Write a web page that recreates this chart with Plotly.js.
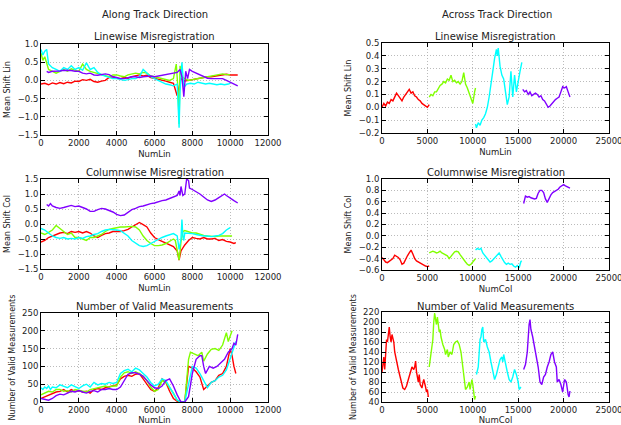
<!DOCTYPE html>
<html><head><meta charset="utf-8">
<script src="https://cdn.plot.ly/plotly-3.0.1.min.js"></script>
<style>html,body{margin:0;padding:0;background:#fff}#c{width:621px;height:425px}</style>
</head><body><div id="c"></div>
<script>
// ---------- Along track: Linewise ----------
const alX_red = [0,200,400,600,800,1000,1200,1400,1600,1800,2000,2200,2400,2600,2800,3000,3200,3400,3600,3800,4000,4200,4400,4600,4800,5000,5200,5400,5600,5800,6000,6200,6400,6600,6800,7000,7200,7400,7600,7800,8000,8200,8400,8600,8800,9000,9200,9400,9600,9800,10000,10200,10400];
const alY_red = [-0.10,-0.08,-0.12,-0.07,-0.10,-0.06,-0.09,-0.05,-0.07,-0.02,-0.03,0.02,0.00,0.03,-0.03,-0.05,-0.02,0.00,0.08,0.10,0.06,0.05,0.08,0.06,0.10,0.13,0.15,0.12,0.14,0.08,0.06,0.04,0.00,-0.02,-0.05,-0.08,-0.42,0.05,-0.02,0.00,0.03,0.05,0.06,0.08,0.10,0.10,0.12,0.14,0.15,0.17,0.15,0.16,0.15];
const alX_grn = [0,100,200,300,400,600,800,1000,1200,1400,1600,1800,2000,2200,2400,2600,2800,3000,3200,3400,3600,3800,4000,4200,4400,4600,4800,5000,5200,5400,5600,5800,6000,6200,6400,6600,6800,7000,7150,7250,7300,7350,7450,7600,7800,8000,8200,8400,8600,8800,9000,9200,9400,9600,9800,10000];
const alY_grn = [0.75,0.55,0.65,0.45,0.30,0.25,0.20,0.25,0.30,0.25,0.32,0.28,0.25,0.45,0.30,0.25,0.22,0.18,0.15,0.12,0.10,0.15,0.15,0.12,0.10,0.15,0.18,0.20,0.18,0.22,0.20,0.12,0.10,0.08,0.06,0.03,0.00,0.05,0.45,-0.30,-1.20,0.40,0.10,0.05,0.00,0.02,0.05,0.06,0.08,0.10,0.12,0.14,0.15,0.18,0.16,0.16];
const alX_cyn = [0,100,200,300,400,600,800,1000,1200,1400,1600,1800,2000,2200,2400,2600,2800,3000,3200,3400,3600,3800,4000,4200,4400,4600,4800,5000,5200,5400,5600,5800,6000,6200,6400,6600,6800,7000,7200,7300,7350,7450,7550,7700,7900,8100,8300,8500,8700,8900,9100,9300,9500,9700,9900,10000];
const alY_cyn = [0.85,0.70,0.80,0.85,0.45,0.35,0.30,0.25,0.35,0.30,0.40,0.30,0.35,0.28,0.48,0.30,0.35,0.22,0.15,0.12,0.10,0.05,0.05,0.02,0.00,0.02,0.05,0.05,0.10,0.30,0.20,0.10,0.05,0.00,-0.05,-0.10,-0.12,-0.15,-0.10,-1.30,-0.30,0.50,-0.20,-0.10,-0.08,-0.10,-0.05,-0.08,-0.10,-0.08,-0.10,-0.12,-0.10,-0.12,-0.10,-0.08];
const alX_pur = [300,400,600,800,1000,1200,1400,1600,1800,2000,2200,2400,2600,2800,3000,3200,3400,3600,3800,4000,4200,4400,4600,4800,5000,5200,5400,5600,5800,6000,6200,6400,6600,6800,7000,7200,7350,7450,7550,7650,7750,7850,8000,8200,8400,8600,8800,9000,9200,9400,9600,9800,10000,10200,10400];
const alY_pur = [0.25,0.22,0.25,0.25,0.26,0.28,0.28,0.27,0.25,0.25,0.20,0.18,0.20,0.15,0.14,0.15,0.18,0.16,0.10,0.08,0.05,0.05,0.08,0.10,0.10,0.08,0.10,0.12,0.12,0.10,0.12,0.15,0.18,0.20,0.20,0.22,0.30,0.10,-0.45,0.25,0.05,0.30,0.25,0.20,0.15,0.10,0.06,0.05,0.05,0.06,0.05,0.00,-0.05,-0.10,-0.15];

// ---------- Along track: Columnwise ----------
const acX_pur = [300,400,500,600,800,1000,1200,1400,1600,1800,2000,2200,2400,2600,2800,3000,3200,3400,3600,3800,4000,4200,4400,4600,4800,5000,5200,5400,5600,5800,6000,6200,6400,6600,6800,7000,7200,7300,7350,7400,7500,7600,7700,7800,7850,8000,8200,8400,8600,8800,9000,9200,9400,9600,9700,9800,10000,10200,10400];
const acY_pur = [0.65,0.60,0.68,0.60,0.55,0.52,0.55,0.58,0.62,0.58,0.60,0.55,0.50,0.42,0.42,0.48,0.52,0.50,0.45,0.40,0.32,0.28,0.30,0.40,0.48,0.52,0.58,0.60,0.65,0.68,0.70,0.75,0.78,0.80,0.85,0.88,0.95,1.10,0.95,1.25,0.95,1.00,1.50,1.45,1.20,1.15,1.08,1.00,0.90,0.80,0.75,0.80,0.88,0.98,1.00,0.95,0.85,0.78,0.70];
const acX_red = [0,200,400,600,800,1000,1200,1400,1600,1800,2000,2200,2400,2600,2800,3000,3200,3400,3600,3800,4000,4200,4400,4600,4800,5000,5200,5400,5600,5800,6000,6200,6400,6600,6800,7000,7200,7300,7400,7600,7800,8000,8200,8400,8600,8800,9000,9200,9400,9600,9800,10000,10200,10300];
const acY_red = [-0.60,-0.55,-0.45,-0.40,-0.35,-0.30,-0.28,-0.32,-0.25,-0.28,-0.25,-0.30,-0.25,-0.30,-0.40,-0.45,-0.38,-0.32,-0.30,-0.25,-0.25,-0.25,-0.22,-0.18,-0.10,-0.02,0.05,-0.02,-0.10,-0.30,-0.45,-0.52,-0.58,-0.62,-0.68,-0.75,-0.90,-1.20,-0.90,-0.70,-0.55,-0.45,-0.48,-0.50,-0.45,-0.50,-0.50,-0.48,-0.55,-0.52,-0.58,-0.60,-0.65,-0.62];
const acX_grn = [0,200,400,600,800,1000,1200,1400,1600,1800,2000,2200,2400,2600,2800,3000,3200,3400,3600,3800,4000,4200,4400,4600,4800,5000,5200,5400,5600,5800,6000,6200,6400,6600,6800,7000,7100,7200,7300,7400,7500,7600,7800,8000,8200,8400,8600,8800,9000,9200,9400,9600,9800,10000,10100];
const acY_grn = [-0.30,-0.35,-0.28,-0.20,-0.05,-0.15,-0.25,-0.35,-0.30,-0.45,-0.45,-0.50,-0.55,-0.45,-0.45,-0.40,-0.35,-0.25,-0.18,-0.15,-0.12,-0.10,-0.10,-0.08,-0.08,-0.10,-0.20,-0.40,-0.55,-0.65,-0.72,-0.72,-0.70,-0.65,-0.58,-0.50,-0.55,-0.85,-1.20,-0.60,-0.25,-0.22,-0.25,-0.30,-0.30,-0.35,-0.38,-0.40,-0.42,-0.42,-0.40,-0.40,-0.38,-0.40,-0.40];
const acX_cyn = [0,200,400,600,800,1000,1200,1400,1600,1800,2000,2200,2400,2600,2800,3000,3200,3400,3600,3800,4000,4200,4400,4600,4800,5000,5200,5400,5600,5800,6000,6200,6400,6600,6800,7000,7200,7300,7400,7450,7500,7550,7600,7800,8000,8200,8400,8600,8800,9000,9200,9400,9600,9800,10000];
const acY_cyn = [-0.15,-0.20,-0.30,-0.40,-0.45,-0.48,-0.45,-0.50,-0.48,-0.50,-0.45,-0.48,-0.42,-0.40,-0.35,-0.32,-0.25,-0.20,-0.18,-0.18,-0.20,-0.22,-0.30,-0.40,-0.55,-0.65,-0.72,-0.75,-0.72,-0.65,-0.58,-0.52,-0.45,-0.40,-0.35,-0.32,-0.40,-0.85,-0.50,0.15,-0.40,-0.55,-0.30,-0.30,-0.32,-0.35,-0.38,-0.40,-0.40,-0.42,-0.40,-0.38,-0.32,-0.20,-0.12];

// ---------- Along track: Valid measurements ----------
const avX_cyn = [0,100,200,300,400,500,600,800,1000,1200,1400,1600,1800,2000,2200,2400,2600,2800,3000,3200,3400,3600,3800,4000,4200,4400,4600,4800,5000,5200,5400,5600,5800,6000,6200,6400,6600,6800,7000,7200,7400,7600,7800,8000,8200,8400,8600,8800,9000,9200,9400,9600,9800,10000,10200,10300];
const avY_cyn = [40,35,42,38,45,35,42,40,48,45,40,48,42,38,45,50,42,55,48,52,50,55,52,55,80,88,92,85,95,90,80,70,55,45,50,65,60,42,20,5,0,0,50,100,95,80,60,40,55,60,70,75,90,120,150,170];
const avX_grn = [0,200,400,600,800,1000,1200,1400,1600,1800,2000,2200,2400,2600,2800,3000,3200,3400,3600,3800,4000,4200,4400,4600,4800,5000,5200,5400,5600,5800,6000,6200,6400,6600,6800,7000,7200,7400,7600,7700,7800,7900,8100,8300,8500,8600,8800,9000,9200,9400,9600,9800,9900,10000,10100];
const avY_grn = [20,25,30,28,35,35,30,32,28,35,32,30,28,35,38,40,42,45,42,45,45,70,82,85,80,85,80,72,60,42,30,35,60,55,40,25,5,0,0,60,120,140,135,130,140,115,135,148,150,145,160,195,170,185,200];
const avX_red = [0,200,400,600,800,1000,1200,1400,1600,1800,2000,2200,2400,2600,2800,3000,3200,3400,3600,3800,4000,4200,4400,4600,4800,5000,5200,5400,5600,5800,6000,6200,6400,6600,6800,7000,7200,7400,7600,7800,8000,8200,8400,8600,8800,9000,9200,9400,9600,9800,10000,10100,10200,10300];
const avY_red = [10,15,20,25,28,30,35,28,35,30,32,28,30,25,35,38,35,40,42,45,48,65,72,75,72,78,80,65,50,35,30,40,65,55,30,10,2,0,0,100,95,85,70,35,45,55,60,75,80,100,150,130,100,80];
const avX_pur = [0,200,400,600,800,1000,1200,1400,1600,1800,2000,2200,2400,2600,2800,3000,3200,3400,3600,3800,4000,4200,4400,4600,4800,5000,5200,5400,5600,5800,6000,6200,6400,6600,6800,7000,7200,7400,7600,7800,8000,8200,8400,8500,8600,8700,8900,9100,9300,9500,9700,9900,10100,10200,10300,10400];
const avY_pur = [10,8,5,10,18,22,20,25,30,28,32,28,25,30,32,28,35,35,38,35,35,42,60,78,82,82,78,72,60,48,40,38,45,60,65,45,20,0,0,15,80,120,130,130,100,80,100,95,100,110,120,140,150,165,160,190];

// ---------- Across track: Linewise ----------
const xlX_red = [0,200,400,600,800,1000,1200,1400,1600,1800,2000,2200,2400,2600,2800,3000,3200,3400,3600,3800,4000,4200,4400,4600,4800,5000,5200];
const xlY_red = [0.00,0.03,0.01,0.04,0.03,0.06,0.05,0.08,0.11,0.09,0.07,0.05,0.08,0.10,0.12,0.14,0.11,0.12,0.09,0.08,0.06,0.05,0.03,0.02,0.01,0.00,0.02];
const xlX_grn = [5200,5400,5600,5800,6000,6200,6400,6600,6800,7000,7200,7400,7600,7800,8000,8200,8400,8600,8800,9000,9200,9400,9600,9800,10000,10200,10300];
const xlY_grn = [0.08,0.10,0.09,0.12,0.12,0.15,0.17,0.18,0.20,0.19,0.22,0.21,0.25,0.20,0.21,0.19,0.20,0.18,0.20,0.27,0.18,0.15,0.11,0.08,0.03,0.12,0.15];
const xlX_cyn = [10300,10400,10600,10800,11000,11200,11400,11600,11800,12000,12200,12400,12600,12700,12800,13000,13200,13400,13600,13800,14000,14200,14400,14600,14800,15000,15200,15400];
const xlY_cyn = [-0.13,-0.16,-0.12,-0.14,-0.10,-0.08,-0.05,0.00,0.08,0.20,0.28,0.38,0.45,0.40,0.46,0.32,0.25,0.22,0.10,0.02,0.08,0.28,0.08,0.25,0.12,0.22,0.28,0.35];
const xlX_pur = [15500,15700,15900,16100,16300,16500,16700,16900,17100,17300,17500,17700,17900,18100,18300,18500,18700,18900,19100,19300,19500,19700,19900,20100,20300,20500,20700];
const xlY_pur = [0.14,0.12,0.13,0.10,0.12,0.09,0.10,0.11,0.10,0.08,0.09,0.06,0.05,0.02,0.00,0.01,0.03,0.05,0.06,0.07,0.08,0.12,0.16,0.15,0.16,0.12,0.08];

// ---------- Across track: Columnwise ----------
const xcX_red = [0,200,400,600,800,1000,1200,1400,1600,1800,2000,2200,2400,2600,2800,3000,3200,3400,3600,3800,4000,4200,4400,4600,4800,5000,5200];
const xcY_red = [-0.38,-0.43,-0.46,-0.47,-0.45,-0.42,-0.40,-0.34,-0.36,-0.38,-0.42,-0.50,-0.48,-0.40,-0.35,-0.30,-0.25,-0.32,-0.40,-0.44,-0.46,-0.48,-0.50,-0.52,-0.53,-0.54,-0.53];
const xcX_grn = [5200,5400,5600,5800,6000,6200,6400,6600,6800,7000,7200,7400,7600,7800,8000,8200,8400,8600,8800,9000,9200,9400,9600,9800,10000,10200,10300];
const xcY_grn = [-0.30,-0.29,-0.27,-0.28,-0.30,-0.29,-0.27,-0.30,-0.32,-0.33,-0.35,-0.40,-0.36,-0.30,-0.28,-0.27,-0.28,-0.33,-0.38,-0.42,-0.46,-0.50,-0.52,-0.50,-0.45,-0.42,-0.40];
const xcX_cyn = [10300,10500,10700,10900,11100,11300,11500,11700,11900,12100,12300,12500,12700,12900,13100,13300,13500,13700,13900,14100,14300,14500,14700,14900,15100,15300,15400];
const xcY_cyn = [-0.25,-0.22,-0.24,-0.22,-0.30,-0.34,-0.38,-0.42,-0.46,-0.44,-0.40,-0.38,-0.32,-0.30,-0.36,-0.42,-0.47,-0.50,-0.48,-0.50,-0.49,-0.53,-0.55,-0.52,-0.56,-0.45,-0.44];
const xcX_pur = [15600,15700,15800,16000,16200,16400,16600,16800,17000,17200,17400,17600,17800,18000,18200,18400,18600,18800,19000,19200,19400,19600,19800,20000,20200,20400,20600,20700];
const xcY_pur = [0.57,0.62,0.70,0.68,0.69,0.67,0.66,0.65,0.66,0.75,0.80,0.80,0.76,0.65,0.59,0.66,0.72,0.76,0.78,0.80,0.82,0.86,0.88,0.90,0.88,0.86,0.84,0.84];

// ---------- Across track: Valid measurements ----------
const xvX_red = [0,100,200,300,400,500,600,700,800,900,1000,1100,1200,1300,1400,1600,1800,2000,2200,2300,2500,2700,2900,3100,3300,3500,3600,3700,3800,4000,4100,4200,4400,4500,4600,4800,4900,5000,5100];
const xvY_red = [100,120,130,105,140,165,160,175,190,170,160,175,165,160,140,120,105,90,75,68,65,72,85,100,110,105,110,122,100,80,95,75,68,78,85,70,60,65,50];
const xvX_grn = [5200,5400,5600,5700,5800,5900,6000,6100,6300,6400,6500,6700,6900,7000,7200,7300,7500,7700,7900,8100,8300,8500,8700,8900,9100,9200,9400,9600,9700,9900,10000,10100,10200,10300];
const xvY_grn = [110,140,165,200,218,205,195,210,180,185,170,155,145,135,145,130,140,135,155,160,162,155,140,110,80,65,70,80,65,85,75,50,45,52];
const xvX_cyn = [10400,10600,10800,10900,11000,11100,11200,11400,11600,11800,12000,12200,12400,12600,12800,13000,13200,13300,13400,13600,13800,14000,14200,14400,14600,14800,15000,15100,15300];
const xvY_cyn = [95,110,165,170,185,190,160,165,150,140,120,100,85,95,110,125,130,120,135,115,100,85,80,90,105,95,80,65,70];
const xvX_pur = [15600,15800,16000,16100,16200,16300,16400,16600,16800,17000,17200,17400,17600,17800,18000,18200,18400,18600,18800,19000,19200,19300,19500,19700,19900,20100,20300,20500,20600,20700];
const xvY_pur = [105,115,140,175,195,205,185,170,150,130,110,80,75,90,95,110,120,135,140,120,110,80,85,75,60,85,80,55,50,62];

const RED='#ff0000', GRN='#80ff00', CYN='#00ffff', PUR='#8000ff';

function tr(x,y,c,n){return {x:x,y:y,type:'scatter',mode:'lines',line:{color:c,width:1.4},xaxis:'x'+(n>1?n:''),yaxis:'y'+(n>1?n:''),hoverinfo:'skip'};}
const data = [
  tr(alX_red,alY_red,RED,1),tr(alX_grn,alY_grn,GRN,1),tr(alX_cyn,alY_cyn,CYN,1),tr(alX_pur,alY_pur,PUR,1),
  tr(xlX_red,xlY_red,RED,2),tr(xlX_grn,xlY_grn,GRN,2),tr(xlX_cyn,xlY_cyn,CYN,2),tr(xlX_pur,xlY_pur,PUR,2),
  tr(acX_red,acY_red,RED,3),tr(acX_grn,acY_grn,GRN,3),tr(acX_cyn,acY_cyn,CYN,3),tr(acX_pur,acY_pur,PUR,3),
  tr(xcX_red,xcY_red,RED,4),tr(xcX_grn,xcY_grn,GRN,4),tr(xcX_cyn,xcY_cyn,CYN,4),tr(xcX_pur,xcY_pur,PUR,4),
  tr(avX_red,avY_red,RED,5),tr(avX_grn,avY_grn,GRN,5),tr(avX_cyn,avY_cyn,CYN,5),tr(avX_pur,avY_pur,PUR,5),
  tr(xvX_red,xvY_red,RED,6),tr(xvX_grn,xvY_grn,GRN,6),tr(xvX_cyn,xvY_cyn,CYN,6),tr(xvX_pur,xvY_pur,PUR,6)
];

const W=621,H=425, F='DejaVu Sans, sans-serif', TC='#222';
const colL=[41,268], colR=[382,609];
const rows=[[44,135],[179,269],[313,402]];
function xd(c){return [c[0]/W,c[1]/W];}
function yd(r){return [1-r[1]/H,1-r[0]/H];}
function ax(extra){return Object.assign({showline:true,linecolor:'#000',linewidth:1,mirror:'allticks',ticks:'inside',ticklen:4,tickcolor:'#000',
  showgrid:true,gridcolor:'#aaaaaa',griddash:'1px,2px',gridwidth:0.8,zeroline:false,tickfont:{family:F,size:8.5,color:TC},autorange:false,fixedrange:true,
  tickformat:'d',separatethousands:false,exponentformat:'none',ticklabeloverflow:'allow'},extra);}
function xt(t){return {text:t,font:{family:F,size:8.5,color:TC},standoff:3};}
function yt(t){return {text:t,font:{family:F,size:8,color:TC},standoff:5};}

const layout = {
  width:W,height:H,margin:{l:0,r:0,t:0,b:0},paper_bgcolor:'#fff',plot_bgcolor:'#fff',showlegend:false,
  xaxis: ax({domain:xd(colL),range:[0,12000],dtick:2000,anchor:'y',title:xt('NumLin')}),
  yaxis: ax({domain:yd(rows[0]),range:[-1.5,1.0],dtick:0.5,tickformat:'.1f',anchor:'x',title:yt('Mean Shift Lin')}),
  xaxis2: ax({domain:xd(colR),range:[0,25000],dtick:5000,anchor:'y2',title:xt('NumLin')}),
  yaxis2: ax({domain:yd([43,133]),range:[-0.2,0.5],dtick:0.1,tickformat:'.1f',anchor:'x2',title:yt('Mean Shift Lin')}),
  xaxis3: ax({domain:xd(colL),range:[0,12000],dtick:2000,anchor:'y3',title:xt('NumLin')}),
  yaxis3: ax({domain:yd(rows[1]),range:[-1.5,1.5],dtick:0.5,tickformat:'.1f',anchor:'x3',title:yt('Mean Shift Col')}),
  xaxis4: ax({domain:xd(colR),range:[0,25000],dtick:5000,anchor:'y4',title:xt('NumCol')}),
  yaxis4: ax({domain:yd([179,270]),range:[-0.6,1.0],dtick:0.2,tickformat:'.1f',anchor:'x4',title:yt('Mean Shift Col')}),
  xaxis5: ax({domain:xd(colL),range:[0,12000],dtick:2000,anchor:'y5',title:xt('NumLin')}),
  yaxis5: ax({domain:yd(rows[2]),range:[0,250],dtick:50,anchor:'x5',title:yt('Number of Valid Measurements')}),
  xaxis6: ax({domain:xd(colR),range:[0,25000],dtick:5000,anchor:'y6',title:xt('NumCol')}),
  yaxis6: ax({domain:yd([312,402]),range:[40,220],dtick:20,anchor:'x6',title:yt('Number of Valid Measurements')}),
  annotations:[]
};
function ann(t,xp,yp){layout.annotations.push({text:t,x:xp/W,y:1-yp/H,xref:'paper',yref:'paper',xanchor:'center',yanchor:'middle',showarrow:false,font:{family:F,size:10,color:TC}});}
ann('Along Track Direction',155,14);
ann('Across Track Direction',497,14);
ann('Linewise Misregistration',(colL[0]+colL[1])/2,36);
ann('Linewise Misregistration',(colR[0]+colR[1])/2,36);
ann('Columnwise Misregistration',(colL[0]+colL[1])/2,172);
ann('Columnwise Misregistration',(colR[0]+colR[1])/2,172);
ann('Number of Valid Measurements',(colL[0]+colL[1])/2,306);
ann('Number of Valid Measurements',(colR[0]+colR[1])/2,306);
Plotly.newPlot('c',data,layout,{staticPlot:true,displayModeBar:false});
</script></body></html>
